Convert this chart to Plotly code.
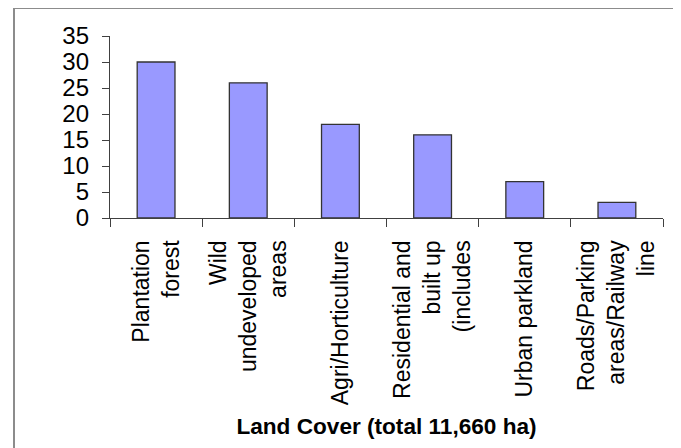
import plotly.graph_objects as go

categories = [
    "Plantation<br>forest",
    "Wild<br>undeveloped<br>areas",
    "Agri/Horticulture",
    "Residential and<br>built up<br>(includes",
    "Urban parkland",
    "Roads/Parking<br>areas/Railway<br>line",
]
values = [30, 26, 18, 16, 7, 3]
y_ticks = [0, 5, 10, 15, 20, 25, 30, 35]
x_title = "Land Cover (total 11,660 ha)"

FONT = "Arial, Liberation Sans, sans-serif"

fig = go.Figure(
    go.Bar(
        x=categories,
        y=values,
        marker=dict(color="#9999FF", line=dict(color="#333333", width=1.3)),
        width=0.41,
    )
)

fig.update_layout(
    width=681,
    height=448,
    margin=dict(l=102, r=26, t=28, b=238),
    paper_bgcolor="white",
    plot_bgcolor="white",
    font=dict(family=FONT, size=21, color="black"),
    showlegend=False,
    shapes=[
        dict(
            type="rect", xref="paper", yref="paper",
            x0=-0.1736, x1=1.0253, y0=-1.3, y1=1.1538,
            line=dict(color="#8c8c8c", width=2), fillcolor="rgba(0,0,0,0)",
            layer="below",
        )
    ],
)

fig.update_xaxes(
    type="category",
    automargin=False,
    tickangle=-90,
    showline=True,
    linecolor="#404040",
    linewidth=1.3,
    ticks="outside",
    tickson="boundaries",
    ticklen=8,
    tickcolor="#404040",
    tickwidth=1.3,
    showgrid=False,
    ticklabelstandoff=12,
    tickfont=dict(size=23),
    title=dict(text="<b>" + x_title + "</b>", font=dict(size=22.6), standoff=13),
)

fig.update_yaxes(
    automargin=False,
    range=[0, 35],
    tickvals=y_ticks,
    showline=True,
    linecolor="#404040",
    linewidth=1.3,
    ticks="outside",
    ticklen=7,
    tickcolor="#404040",
    tickwidth=1.3,
    showgrid=False,
    zeroline=False,
    tickfont=dict(size=24),
    ticklabelstandoff=8,
)

fig.write_html("out.html")
